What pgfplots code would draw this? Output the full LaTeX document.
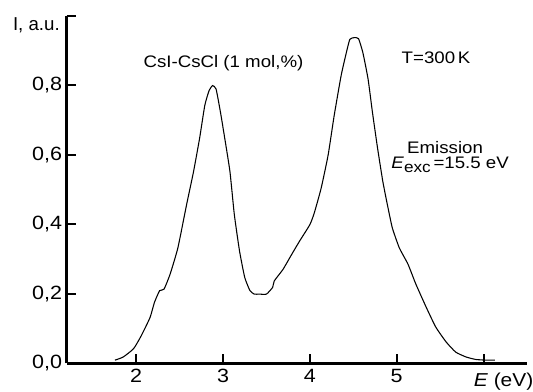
\documentclass[border=0pt]{standalone}
\usepackage{fontspec}
\setmainfont{Liberation Sans}[FakeStretch=1.12]
\newfontfamily\plainfont{Liberation Sans}
\usepackage{pgfplots}
\pgfplotsset{compat=1.18}
\begin{document}
\begin{tikzpicture}
\begin{axis}[
  name=ax,
  scale only axis,
  width=345pt, height=260.5pt,
  xmin=1.2, xmax=6.5, ymin=0, ymax=1.0,
  axis lines=left,
  axis line style={line width=2pt, -},
  xtick={2,3,4,5,6},
  xticklabels={2,3,4,5,{}},
  ytick={0,0.2,0.4,0.6,0.8,1.0},
  yticklabels={{0,0},{0,2},{0,4},{0,6},{0,8},{}},
  major tick length=6.8pt,
  tick style={line width=1.5pt, black},
  tick align=inside,
  ticklabel style={font=\fontsize{14.4}{16}\selectfont},
  xticklabel style={yshift=-1pt},
  clip=false,
]
\addplot[black, line width=0.8pt, smooth, tension=0.3] coordinates {
(1.755,0.009) (1.85,0.018) (1.97,0.042) (2.06,0.080) (2.16,0.132) (2.21,0.175)
(2.27,0.209) (2.32,0.213) (2.39,0.256) (2.48,0.332) (2.58,0.456) (2.66,0.551)
(2.73,0.647) (2.79,0.742) (2.84,0.785) (2.88,0.799) (2.92,0.789) (2.97,0.723)
(3.02,0.647) (3.08,0.551) (3.13,0.428) (3.19,0.323) (3.25,0.247) (3.31,0.209)
(3.36,0.199) (3.42,0.199) (3.50,0.199) (3.57,0.218) (3.59,0.237) (3.69,0.270)
(3.79,0.313) (3.88,0.351) (4.00,0.399) (4.05,0.432) (4.13,0.504) (4.21,0.599)
(4.28,0.713) (4.36,0.828) (4.42,0.894) (4.46,0.932) (4.51,0.937) (4.56,0.934)
(4.61,0.894) (4.67,0.818) (4.72,0.723) (4.78,0.618) (4.84,0.523) (4.90,0.447)
(4.95,0.389) (5.03,0.332) (5.13,0.285) (5.22,0.228) (5.34,0.161) (5.45,0.104)
(5.57,0.061) (5.68,0.032) (5.80,0.018) (5.91,0.011) (6.03,0.009) (6.13,0.009)
};
\node[font=\fontsize{12.5}{14}\selectfont] at (axis cs:3.005,0.864) {CsI-CsCl (1 mol,\%)};
\node[font=\fontsize{12.5}{14}\selectfont] at (axis cs:5.453,0.878) {T=300\,K};
\node[font=\fontsize{12.5}{14}\selectfont, anchor=base, inner sep=0pt] at (axis cs:5.557,0.604) {Emission};
\node[font=\fontsize{12.5}{14}\selectfont, anchor=base, inner sep=0pt] at (axis cs:5.615,0.561) {\textit{E}\raisebox{-0.45ex}{\fontsize{11.5}{13}\selectfont exc}\,=15.5 eV};
\node[font=\plainfont\fontsize{14}{16}\selectfont, anchor=north east, inner sep=0pt] at ([xshift=-5pt,yshift=-1.3pt]axis cs:1.2,1.0) {I, a.u.};
\node[font=\fontsize{14}{16}\selectfont, anchor=base, inner sep=0pt] at ([yshift=-17.5pt]axis cs:6.23,0) {\textit{E} (eV)};
\end{axis}
\pgfresetboundingbox
\path ([xshift=-50pt,yshift=-21pt]ax.south west) rectangle ([xshift=4.5pt,yshift=11.8pt]ax.north east);
\end{tikzpicture}
\end{document}
